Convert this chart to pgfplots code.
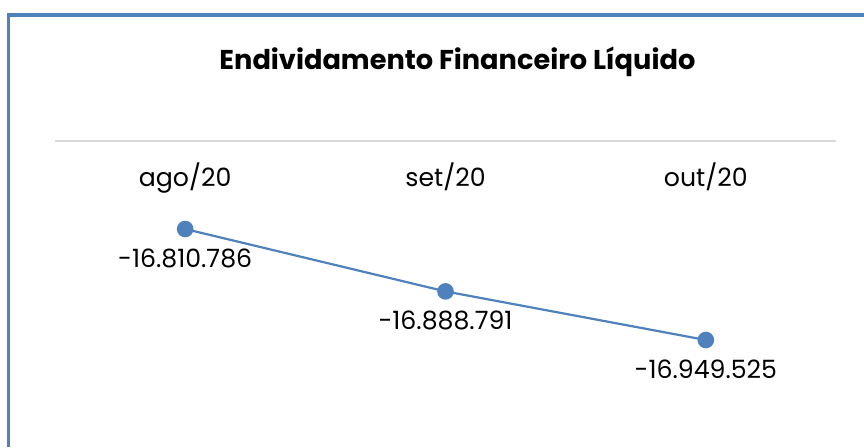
\documentclass[border=0pt]{standalone}
\usepackage{fontspec}
\setmainfont{Poppins}
\usepackage{pgfplots}
\pgfplotsset{compat=1.18}
\definecolor{exblue}{HTML}{4F81BD}
\definecolor{gridgray}{HTML}{D9D9D9}
\begin{document}
\begin{tikzpicture}
\useasboundingbox (0,0) rectangle (432pt,-223.5pt);
% chart frame (top and left border)
\draw[exblue, line width=1.7pt] (4.3pt,-223.5pt) -- (4.3pt,-7.4pt) -- (432pt,-7.4pt);
% title
\node[anchor=base, font=\fontsize{13.6}{15}\selectfont\bfseries] at (228.7pt,-34.8pt) {Endividamento Financeiro Líquido};
\begin{axis}[
  at={(27.5pt,-70.5pt)}, anchor=north west,
  scale only axis, width=390.5pt, height=153pt,
  xmin=-0.5, xmax=2.5,
  ymin=-17083286, ymax=-16700786,
  axis x line*=top,
  hide y axis,
  axis line style={draw=gridgray, line width=0.75pt, -},
  xtick={0,1,2},
  xticklabels={ago/20,set/20,out/20},
  major tick length=0pt,
  xticklabel style={font=\fontsize{12.6}{14}\selectfont, anchor=base, yshift=-22.8pt},
  clip=false,
  point meta=explicit symbolic,
  nodes near coords,
  every node near coord/.append style={font=\fontsize{12.6}{14}\selectfont, anchor=base, yshift=-19.2pt, color=black},
]
\addplot[color=exblue, line width=1.1pt, mark=*, mark size=3.6pt, mark options={fill=exblue, draw=exblue}]
  table[meta=label] {
  x y label
  0 -16810786 -16.810.786
  1 -16888791 -16.888.791
  2 -16949525 -16.949.525
  };
\end{axis}
\end{tikzpicture}
\end{document}
